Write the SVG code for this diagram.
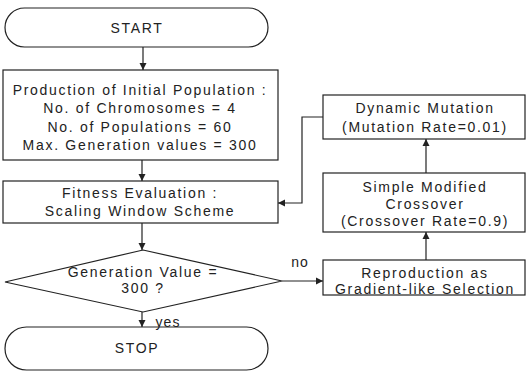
<svg xmlns="http://www.w3.org/2000/svg" width="527" height="380" viewBox="0 0 527 380">
<style>
.s{fill:#fff;stroke:#222;stroke-width:1.2}
.c{fill:none;stroke:#222;stroke-width:1.2}
text{font-family:"Liberation Sans",Arial,sans-serif;font-size:14px;fill:#222;text-anchor:middle;letter-spacing:1.7px}
</style>
<defs>
<marker id="a" markerWidth="8" markerHeight="8" refX="7" refY="4" orient="auto" markerUnits="userSpaceOnUse">
<path d="M0,0.5 L7,4 L0,7.5 Z" fill="#222"/>
</marker>
</defs>
<rect width="527" height="380" fill="#fff"/>
<g id="start"><rect class="s" x="5" y="8" width="263" height="39" rx="19.5"/><text x="137" y="33">START</text></g>
<g id="init"><rect class="s" x="3" y="70" width="275" height="90"/>
<text x="140" y="95">Production of Initial Population :</text>
<text x="140" y="113">No. of Chromosomes = 4</text>
<text x="140" y="132">No. of Populations = 60</text>
<text x="140" y="150">Max. Generation values = 300</text></g>
<g id="fitness"><rect class="s" x="3" y="181" width="275" height="42"/>
<text x="140" y="198">Fitness Evaluation :</text>
<text x="140" y="216">Scaling Window Scheme</text></g>
<g id="decision"><polygon class="s" points="143,250 282,281 143,312 5,282"/>
<text x="143" y="277">Generation Value =</text>
<text x="143" y="293">300 ?</text></g>
<g id="stop"><rect class="s" x="5" y="327" width="263" height="43" rx="21.5"/><text x="137" y="353">STOP</text></g>
<g id="mutation"><rect class="s" x="323" y="95" width="202" height="44"/>
<text x="425" y="113">Dynamic Mutation</text>
<text x="425" y="132">(Mutation Rate=0.01)</text></g>
<g id="crossover"><rect class="s" x="323" y="173" width="202" height="59"/>
<text x="425" y="192">Simple Modified</text>
<text x="425" y="209">Crossover</text>
<text x="425" y="226">(Crossover Rate=0.9)</text></g>
<g id="reproduction"><rect class="s" x="323" y="260" width="202" height="35"/>
<text x="425" y="278">Reproduction as</text>
<text x="425" y="294">Gradient-like Selection</text></g>
<g id="connectors">
<line class="c" x1="143" y1="47" x2="143" y2="70" marker-end="url(#a)"/>
<line class="c" x1="142" y1="160" x2="142" y2="181" marker-end="url(#a)"/>
<line class="c" x1="142" y1="223" x2="142" y2="250" marker-end="url(#a)"/>
<line class="c" x1="142" y1="312" x2="142" y2="327" marker-end="url(#a)"/>
<line class="c" x1="282" y1="281" x2="323" y2="281" marker-end="url(#a)"/>
<line class="c" x1="426" y1="260" x2="426" y2="232" marker-end="url(#a)"/>
<line class="c" x1="426" y1="173" x2="426" y2="139" marker-end="url(#a)"/>
<polyline class="c" points="323,117 302,117 302,203 278,203" marker-end="url(#a)"/>
<text x="168" y="327" style="letter-spacing:1px">yes</text>
<text x="300" y="267" style="letter-spacing:1px">no</text>
</g>
</svg>
